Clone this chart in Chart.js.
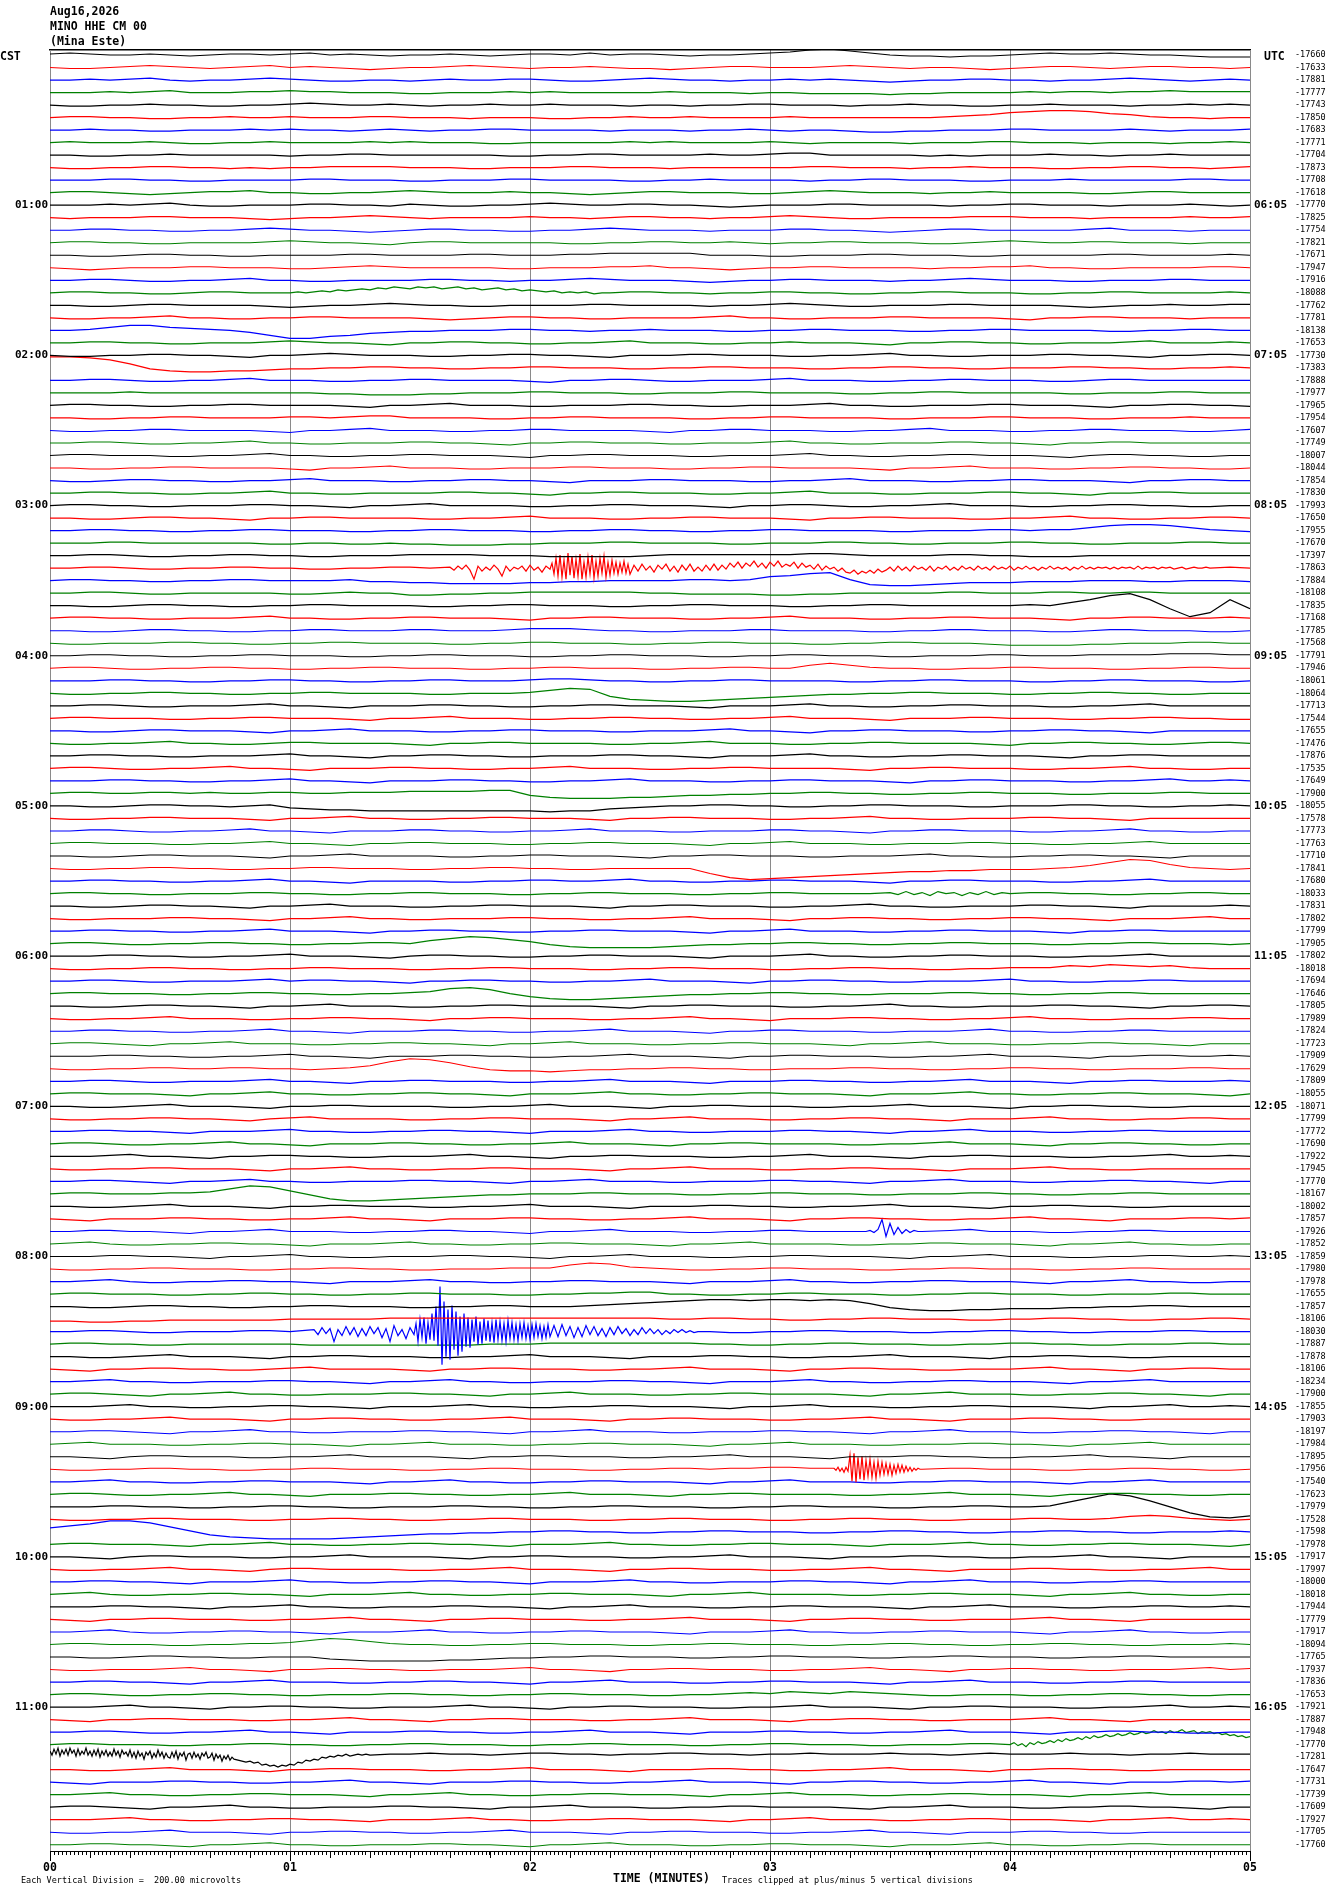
<!DOCTYPE html>
<html>
<head>
<meta charset="utf-8">
<script src="https://cdn.jsdelivr.net/npm/chart.js@4.4.1/dist/chart.umd.min.js"></script>
<style>
body { margin: 0; background: #fff; }
#wrap { position: relative; width: 1330px; height: 1894px; }
canvas { position: absolute; left: 0; top: 0; }
.t { position: absolute; font-family: "DejaVu Sans Mono", monospace; color: #000; white-space: pre; line-height: 15px; }
.b { font-weight: bold; font-size: 11.5px; }
.s { font-size: 8.5px; }
</style>
</head>
<body>
<div id="wrap">
  <canvas id="heli" width="1330" height="1894"></canvas>
  <div class="t b" style="left:50px;top:4px">Aug16,2026<br>MINO HHE CM 00<br>(Mina Este)</div>
  <div class="t b" style="left:0px;top:49px">CST</div>
  <div class="t b" style="left:1264px;top:49px">UTC</div>
  <div class="t s" style="left:21px;top:1873px">Each Vertical Division =  200.00 microvolts</div>
  <div class="t b" style="left:613px;top:1871px">TIME (MINUTES)</div>
  <div class="t s" style="left:722px;top:1873px">Traces clipped at plus/minus 5 vertical divisions</div>
</div>
<script>
// helicorder: 144 five-minute traces, 00:00-11:55 CST
const traceColors = ['#000000', '#ff0000', '#0000ff', '#008000'];
const localHours = ['01:00', '02:00', '03:00', '04:00', '05:00', '06:00', '07:00', '08:00', '09:00', '10:00', '11:00'];
const utcHours = ['06:05', '07:05', '08:05', '09:05', '10:05', '11:05', '12:05', '13:05', '14:05', '15:05', '16:05'];
const minuteLabels = ['00', '01', '02', '03', '04', '05'];

// mean count of each trace (right column)
const traceMeans = [
  -17660, -17633, -17881, -17777, -17743, -17850, -17683, -17771, -17704, -17873, -17708, -17618,
  -17770, -17825, -17754, -17821, -17671, -17947, -17916, -18088, -17762, -17781, -18138, -17653,
  -17730, -17383, -17888, -17977, -17965, -17954, -17607, -17749, -18007, -18044, -17854, -17830,
  -17993, -17650, -17955, -17670, -17397, -17863, -17884, -18108, -17835, -17168, -17785, -17568,
  -17791, -17946, -18061, -18064, -17713, -17544, -17655, -17476, -17876, -17535, -17649, -17900,
  -18055, -17578, -17773, -17763, -17710, -17841, -17680, -18033, -17831, -17802, -17799, -17905,
  -17802, -18018, -17694, -17646, -17805, -17989, -17824, -17723, -17909, -17629, -17809, -18055,
  -18071, -17799, -17772, -17690, -17922, -17945, -17770, -18167, -18002, -17857, -17926, -17852,
  -17859, -17980, -17978, -17655, -17857, -18106, -18030, -17887, -17878, -18106, -18234, -17900,
  -17855, -17903, -18197, -17984, -17895, -17956, -17540, -17623, -17979, -17528, -17598, -17978,
  -17917, -17997, -18000, -18018, -17944, -17779, -17917, -18094, -17765, -17937, -17836, -17653,
  -17921, -17887, -17948, -17770, -17281, -17647, -17731, -17739, -17609, -17927, -17705, -17760
];

// shape of each trace, one letter per 5 s; 'M' = 0, one letter step = 16 microvolts, later letters = up
const traceShapes = [
  'NONMMNMLMNNMNOMNMLMMNMLMNNMOMNNMLMMNOPRSQOMLLKLLMNONNONMMLKKK',
  'MLLMNONMLMNOMNMLKLMMNONMLMMNMLLKLMNNMMMNONMLMMLKLMNNMLMNNMMLM',
  'MMNMNOMLMMNONMLLMMLMNMMNNMLLMNONMMLMMNMNMLKLMMNNMMLMMNONMLMNM',
  'MMMNMNOMMMNNONNMMMLLMMMNMNMMMMMNMMMLMMLLLLKLLMMMMNMNNMNNONNNN',
  'MLLMMNMMLLMMNONMMNMLMMNMMNMMMLMMLMMNNMMMLMMNMMLLMMNMMMLMMNMNM',
  'MNNMMLLMMNMMNMMMNNMMMLMMMLLMMNMMNMMMMNMMMMMMMNOPRSTTSQPNMMLMM',
  'MMNMMLLMMMNMNMMLMNMLMMNNMMMMLMMMLMMNMLMMLKKLLMMMNNMMMMNMLMMMN',
  'MNMMMNMLLMMNMMMMNMNMMMLLMMMMMNMNMMMMNMLMMMMLMMMNNMMMLMMMLMMNM',
  'MMLLMMNMMMMMLMMNNMMMMMMLLMMNNMMMMNMMNOOMMMMMLMLMMMNMMLMMNMMMM',
  'MLLMMNNMMLMLMMNNNNMMMLLMMMNNMMMLMMMMMMNNMMMLMMNMMMLLMMNNMMLMN',
  'MMMNNMMLLMMMMNNMMMLLMMMNNMMMMLLMMNMMMMLMMNNMMMLLMMMNMMMMMNNMM',
  'MNNMLKLMNNOMMLLMMNONMMMNMMLKLMNNMMMLLMNONMMMLMMNMMMMLLMNNMMMM',
  'MMMNMNOMLLMMMNNMMLNMLLMMNONMMNNMMLKLMMMNNMMMMLMMNNMMMLMMMNMLM',
  'MLMMMNNMMMLKLMMNONMLMMMMNMMLMNNMMLMMNONMLLMMMMNNNMMMLMMMMNMMN',
  'MMNNMMLLMMNONMMLKLMNNMMLLMMNONMMMLMMMNNMMLKLMNNMMMMMNOMMMLMMM',
  'MNNMMLLMMMMNONMMLKMNNMMMMMLLMMNNMMNMLMMNNMMMLLMNONMMNNMMMLMMM',
  'MMLLMNNMMLLMMMMNNMMMMNNMMMNNOOOOOMMMLLMMMNNMMMLLMMMMMNNMMMMNM',
  'MLKLMMMNNMMMLLMNONMMMMMLLMMMNNOMMLKLMMNNMMMMLMMNNOMMLLMMMMNNM',
  'MMNNMLLMMNOMMLLMMMMNNMMLMMNONMMMLKLMMNNMMMLMMNONMMMLLMMMNNMMM',
  'MNNMMLLMNNMMNMMMMMMMMMMMMMMMMNNMMLMMNNMMLLMMNNMMMLLMMNNMMMMNM',
  'MMLLMNNMMMMLKLMMNONMMLLMMMMNNMMMMLMMNONMLLMMMNNMMMMLKLMMNMMNN',
  'MLLMMNOMMLLMMNNMMMMLKLMNNMMLLMMMMNOMMLLMMMNNMMMMLKMMNNMMMLMMM',
  'MMNPRRPONMKHEEGHJKLLMMMNNMMLMMNMMMLLMMNNMMMLLMMNNMMMMLLMMNNMM',
  'MMNNMMLLMMMNONMMLKMMNNMMLLMMNOMMMLLMMNMMMLKMMNNMMLLMMMNOMMMNM',
  'MLLMMNNMMLKMMNONMMMLLMMNNMMLKMMMNNMMMLLMMNOMMLLMMMNNMMLKMMNNM',
  'XXWUQLJIIJJKLLMMNNMMLLMMNNMMMLLMMNNMMMLLMMNNMMLLMMMNNMMLLMMNM',
  'MMNNMLLMMNOMMMLLMMNNMMMMLKMMNNMLLMMMNOMMMLLMMNNMMMLLMNNMMMMMM',
  'MMMMNMMMMMMMMMLLKKKLLMMMNNMMMLLMMMNNMMMMLLMMNNMMMMMLLMMMNNMMM',
  'MNNMMLLMMNNMMMMLKMMNOMMMLLMMMNNMMLLMMMNOMMLLMMMNNMMMLKMMNNMML',
  'MMLLMMNNMMMMNNMNOOMMMMLLMMNNMMMMLLMMNNMMMMLLMMMNNMMMLLMMMNMMM',
  'MLLMMNNMMMMLKMMNOMMMLLMMNNMMMMLKMMNNMMMLLMMNOMMMLLMMNNMMMLLMN',
  'MMNNMLLMMNOMMLLMMMNNMMLKMMNNMMMLLMMMNOMMLLMMMNNMMLKMMNNMMMMMM',
  'MNNMMMLLMMNOMMLLMMNNMMMLKMMNNMMMLLMMMNOMMLLMMNNMMMLKMNNMMLLMM',
  'MMLLMMNNMMMMLKMMNOMMMLLMMMNNMMMLLMMNNMMMMLKMMNOMMMLLMMNNMMLLM',
  'MLLMNNMMLLMMNOMMMLLMMNNMMLKMMMNNMMMLLMMNOMMMLLMMNNMMMLKMMNNMM',
  'MMNNMMLLMMNOMMLLMMMMNNMMLKMMNNMMMLLMMNOMMMLLMMMNNMMLKMMNNMMMM',
  'MNNMMLLMMMNNMMLKMMNOMMMMLLMMNNMMMLKMMNNMLLMMNOMMMLLMMNNMMLLMM',
  'MMLLMNNMMLKMMNNMMMMLLMMNOMMMLLMMNNMMMLKMMNNMMMLLMMNOMMLLMMNNM',
  'MMNNMMLLMMNNMMMLLMMNNMMMLLMMNNMMLLMMNNMMMMLLMMMNNMNNPRSSRPNML',
  'MMMNNMMMMMMLLMMLLMLLKKKLLMMMNNMMMMLLMMMNNMMLLMMMNNMMLLMMMNNMM',
  'MMNNMLLMMNNMMLLMMMNNNNMMMLLLLLMNNNNNNNOONMMMMNNMMLLLMMMMMMMMM',
  'MMNNMLLMMNNMMLLMMNNMMMMMMMMMMMMMMMMMMMMMMMMMMMMMMMMMMMMMMMNNM',
  'MNNMMLLMMNNMMMMNLLKKJJJJKKLLMMMMNNMNQRTUNIHHIJKKKLLLMMMLLMMML',
  'MMNNMLLMMMMMLLMNMMKKLLMMNNNNNNMMLLLLKKLLMMMMMNNMMMNNMMNNMMMMM',
  'MMLLMNNMMLLMMNNMMMMLLMMNNMMMLLMMNNMMMLLMMNNMMMMMMMMMMMMMMMMMM',
  'MNNMMLLMMMNOMMLLMMNNMMMLKMMNNMMMLLMMNOMMMLLMMNNMMMLKMMNNMMMNM',
  'MMLLMNNMMLLMMNNMMMNNMMMNOOONMMLLMMMNNMMMMLLMMNNMMMLLMNNMMMLLM',
  'MLLMMMNNMMLLMMNNMMMMLLMMNNMMMLLMMNNMMMLLMMNNMMMLKKKKLLMMMNNMM',
  'MMNNMMLLMMNNMMMLLMMNNMMMLLMMNNMMMLLMMNNMMMLLMMMNNMMMNNNNOOONN',
  'MNNMLLMMNNMMLLMMNNMMMLLMMNNMMMLLMMNNMMPRPNMMLLMMNNMMMLLMMNNMM',
  'MMMNNMMLLMMNNMMLLMMNNMMMNOONMMLLMMNNMMMMLLMMNNMMMLLMMNNMMMLLM',
  'MLLMMNNMMLLMMNNMMMMLLMMMNPRQJGFEEFGHIJKLLMMNNMMMLLMMNNMMLLMMM',
  'MMNNMLLMMMNOMMLKMMMNNMMLLMMNNMMMLKMMMNOMMLLMMNNMMMLLMMNOMMMMM',
  'MNNMMMLLMMNNMMMLKMMNOMMMLLMMNNMMLLMMNOMMMLKMMMNNMMMLLMMNNMMLL',
  'MMLLMNNMMMLKMMNOMMMLLMMNNMMMLLMMMNOMMLKMMNNMMMLLMMNNMMLKMMMMM',
  'MLLMMNOMMLLMNNMMMMLKMMNNMMMMLLMMNOMMMLLMMNNMMMMLKMMNNMMLLMNNM',
  'MMNNMMLLMMMNOMMLKMMNNMMLLMMMNNMMLKMMMNOMMLLMMNNMMMLKMMNNMMMMM',
  'MNNMLLMMNOMMLKMMMNNMMLLMMNOMMMLLMMNNMMMMLKMMNNMMMLLMMNOMMLLMM',
  'MMMNNMMLLMMNOMMLKMMMNNMMLLMMNOMMMLLMMNNMMMLKMMNNMMMLLMMNOMMNM',
  'MNNMMNNMNMMNNMMNNNOOOOPPKIHHHIIJKKLLMMNNMMLLMMNNMMMLLMMMNNMMM',
  'MMLLMNNMMLMNKJIIHHHHHHHHHGHHJKLMMNNMMLLMMNNMMMLLMMMNNMMLLMMNM',
  'MLLMMNNMMMLKMMNOMMLLMMNNMMMLKMMNNMMMLLMMNOMMLLMMMNNMMLKMMMMMM',
  'MMNNMLLMMNOMMLKMMMNNMMLLMMNOMMMLLMMMNNMMLKMMNNMMMLLMMNOMMLLMM',
  'MNNMMMLLMMNOMMLKMMNNMMMLLMMNNMMMLKMMNOMMMLLMMMNNMMLLMMNOMMMMM',
  'MMLLMNNMMMLKMMNOMMMMLLMMNNMMMLKMMNNMMMLLMMMNOMMLLMMNNMMLKMMMM',
  'MLLMMNNMMLLMMNNMMMLLMMNNMMLLMMMMMHDBCDEFGHIJJKKLLLMNPSVUQNMLM',
  'MMNNMMLLMMNOMMLKMMMMLLMMNNMMNOMMLLMMNNMMMLKMMNNMMMLLMMNOMMMMM',
  'MNNMMLLMMMNNMMLLMMNNMMMLLMMNNMMMLLMMNNMMMMMMMMMMMNNMMLLMMNNMM',
  'MMLLMNNMMLKMMNOMMMLLMMNNMMMLKMMNNMMMLLMMNOMMLLMMMNNMMLKMMMMNM',
  'MLLMMMNNMMLKMMNOMMLLMMMNNMMLLMMNOMMMLKMMNNMMLLMMNNMMLKMMMNOMM',
  'MMNNMMLLMMNOMMMLKMMNNMMLLMMNNMMMLKMMNOMMMLLMMNNMMMLKMMNNMMMMM',
  'MNNMLLMMNNMMLLMMNNMPRTSQOLJIIIIJKLLMMNNMMLLMMNNMMMLLMMNNMMMLM',
  'MMMNNMMLLMMNOMMMLKMNNMMLLMMNNMMMLKMMMNOMMLLMMNNMMMLLMMNOMMMMM',
  'MLLMMNNMMLLMMNNMMMLLMMNNMMMLLMMNNMMMLLMMNNMMLLMMNNNPOQPOPNMMM',
  'MMNNMLLMMMNOMNNMMLKMMNNMMLLMMNOMMMLKMMNNMMLLMMMNOMMLLMMNNMMMM',
  'MNNMMMLLMMNNMMLLMMNORSQMJHGGHIJKLLMMNNMMLLMMMNNMMLLMMNNMMMMMM',
  'MMLLMNNMMLKMMNOMMMLLMMNNMMMMLKMMNNMMMLLMMNOMMLLMMMNNMMLKMMNNM',
  'MLLMMNOMMMLLMMNNMMLKMMNNMMMLLMMNOMMLKMMMNNMMLLMMNOMMLLMMMNNMM',
  'MMNNMMLLMMNOMMLKMMMNNMMLLMMNOMMMLKMMNNMMMLLMMMNOMMLLMMNNMMMMM',
  'MNNMLKMMNOMMMLLMMNNMMLKMMNOMMMLLMMNNMMMLKMMNOMMMLLMMNNMMLKMMM',
  'MMMNNMMLLMMNOMMLKMMMNNMMLLMMNOMMMLKMMNNMMMLLMMNOMMMLKMMNNMMNM',
  'MLLMMNNMMNNMMLMNPTWVSOLKKJKLLMMNNMMLLMMMNNMMLLMMNNMMLLMMMNNMM',
  'MMNNMLLMMMNOMMLKMMNNMMMLLMMNOMMMLKMMMNNMMLLMMNOMMMLKMMNNMMMNM',
  'MNNMMMLKMMNOMMLLMMNNMMLKMMMNOMMLLMMNNMMMLKMMMNOMMLLMMNNMMMLKM',
  'MMLLMNOMMMLKMMNNMMMMLLMMNOMMMLKMMNNMMMLLMMNOMMMLKMMNNMMLLMMMM',
  'MLLMMNNMMLKMNOMMMMLLMMNNMMMLKMMNOMMMLLMMNNMMLKMMMNOMMLLMMNNMM',
  'MMNNMMLKMMMNOMMLLMMNNMMLKMMMNOMMLLMMMNNMMLKMMNOMMMLLMMNNMMMMM',
  'MNNMLLMMNOMMLKMMMNNMMLLMMNOMMMLKMMNNMMMMLLMMNOMMMLKMMNNMMLLMM',
  'MMMNOMMLKMMNNMMLLMMMNOMMLKMMNNMMMLLMMNOMMMLKMMNNMMMLLMMNOMMNM',
  'MLLMMNNMMMLKMMNOMMLLMMNNMMMLKMMNOMMMLLMMNNMMLKMMMNOMMLLMMMMMM',
  'MMNNMLKMMNOMMLLMMMNNMMLKMMNOMMMLLMMMNNMMLKMMNOMMMLLMMNNMMLKMM',
  'MNNMMMNNORUTPLHFFGHIJKLLMMMNNMMMLLMMNNMMMLLMMMNNMMLLMMNNMMMMM',
  'MMLLMNOMMMLKMMNNMMMLLMMNOMMMLKMMMNNMMLLMMNOMMMLKMMNNMMLLMMMMM',
  'MLKMMMNNMMLLMMNOMMLKMMMNNMMLLMMNOMMMLKMMNNMMLLMMNOMMLKMMMNNMN',
  'MMNNMMLKMMNOMMMLLMMNNMMLKMMNOMMMLLMMNNMMMLKMMNOMMMLLMMNNMMMMM',
  'MNOMLLMMNNMMLKMMMNOMMLLMMNNMMMLKMMNOMMMMLLMMNNMMMLKMMNOMMLLMM',
  'MMMNNMMLKMMNOMMLLMMMNNMMLKMMNOMMMLLMMNNMMMLKMMNOMMMLLMMNNMMNM',
  'MLLMMNNMMMLLMMNNMMLLMMMNNNQSRONMLLMMNNMMMLLMMNNMMMLLMMNNMMMMM',
  'MMNOMLLMMNNMMLKMMMNOMMLLMMNNMMMLKMMMNOMMLLMMNNMMMLKMMNOMMLLMM',
  'MNNMMMLLMMNNMMLLMMNNMMMLLMMNNOOMMLLMMNNMMMLLMMNNMMMLLMMMNNMMM',
  'MMLLMNNMMLLMMNNMMMLLMMNNMMMNOPQRSTTSTTSTSPLJIIJJKKKLLMMNNMMMM',
  'KKJJKKLLLLLLMMMMMNNNNNNNNNNNNNNMMNNMMLLMMNNMMMLLMMNNMMLLMMNNM',
  'MMNNMLLMMMNNMMMMMMMMMMMMMMMMMMMMMMLLMMNNMMMLLMMNNMMLLMMMNNMMM',
  'MNNMMLLMMMMMMLLLLLLLLLMMMNNNNNNNNMMLLMMNNMMMLLMMNNMMLLMMMNNMM',
  'MMLLMNOMMMLKMMNNMMMLLMMNOMMMLKMMMNNMMLLMMNOMMMLKMMNNMMLLMMMMM',
  'MLKMMNNMMLLMNOMMMMLKMMNNMMMLLMMNOMMMLKMMNNMMLLMMMNOMMLKMMNNMM',
  'MMNOMMLLMMMNNMMLKMMNOMMLLMMMNNMMLKMMMNOMMLLMMNNMMMLKMMNOMMMMM',
  'MNNMLKMMNOMMLLMMMNNMMLKMMNOMMMLLMMNNMMMMLKMMNOMMMLLMMNNMMLKMM',
  'MMMNOMMLLMMNNMMLKMMMNOMMLLMMNNMMMLKMMNOMMMLLMMNNMMMLKMMNOMMNM',
  'MLLMMNOMMMLKMMNNMMLLMMNOMMMLKMMNNMMMLLMMNOMMLKMMMNNMMLLMMMMMM',
  'MMNNMLKMMNOMMLLMMMNNMMLKMMNOMMMLLMMMNNMMLKMMNOMMMLLMMNNMMLKMM',
  'MNOMMMLLMMNNMMLKMMNOMMMLLMMNNMMMLKMMNOMMMLLMMMNNMMLKMMNOMMMMM',
  'MMLKMNNMMMLLMMNOMMMMLKMMNNMMMLLMMNOMMMLKMMMNNMMLLMMNOMMLKMMMM',
  'MLLMMNNMMLLMMNNMMMLLMMNNMMMLLMMNNMNNOONNMMMMMNNMMMLLMMNNMMLLM',
  'MMNOMMLLMMNNMMMLKMMNOMMLLMMNNMMMLKMMNOMMMLLMMNNMMMLKMMNOMMMMM',
  'MNNMLLMMNOMMLKMMMNNMMLLMMNOMMMLKMMNNMMMMLLMMNOMMMLKMMNNMMLLMM',
  'MMMNNMMLLMMNNMMLLMMMNNMMLLMMNNMMMLLMMNNMMMLLMMNNMMNRVZXSMGCBD',
  'MLLMMNNMMMLLMMNNMMLLMMNNMMMLLMMNNMMMLLMMNNMMLLMMMNNMMNPQPNMLM',
  'QSUXXVRNJHGFFFFGHIJKKLLMMNNMMLLMMNNMMMLLMMNNMMLLMMNNMMLLMMMNM',
  'MNNMMMLKMMNOMMLLMMNNMMLKMMMNOMMLLMMNNMMMLKMMMNOMMLLMMNNMMMLKM',
  'MMLKMNNMMMLLMMNOMMMMLKMMNNMMMLLMMNOMMMLKMMMNNMMLLMMNOMMLKMMMM',
  'MLLMMNOMMLKMNNMMMMLLMMNOMMMLKMMNNMMMLLMMNOMMLKMMMNNMMLLMMNOMM',
  'MMNNMMLKMMMNOMMLLMMNNMMLKMMMNOMMLLMMMNNMMLKMMNOMMMLLMMNNMMMMM',
  'MNOMLLMMNNMMLKMMMNOMMLLMMNNMMMLKMMNOMMMMLLMMNNMMMLKMMNOMMLLMM',
  'MMMNNMMLKMMNOMMLLMMMNNMMLKMMNOMMMLLMMNNMMMLKMMNOMMMLLMMNNMMNM',
  'MLKMMNNMMMLLMMNOMMLKMMNNMMMLLMMNOMMMLKMMNNMMLLMMMNOMMLKMMMMMM',
  'MMNOMLLMMNNMMLKMMMNOMMLLMMNNMMMLKMMMNOMMLLMMNNMMMLKMMNOMMLLMM',
  'MNNMMMLLMMNNOQSRPNMMLLMMNNMMMLLMMNNMMMLLMMNNMMLLMMNNMMLLMMMNM',
  'MMLLMNNMMLLMMMKJIIIIJJKLLMMNNMMMLLMMNNMMMLLMMNNMMMLLMMNNMMMMM',
  'MLLMMMNOMMLKMMNNMMLLMMMNOMMLKMMNNMMMLLMMNOMMLKMMNNMMLLMMMNOMN',
  'MMNNMMLKMMNOMMMLLMMNNMMLKMMNOMMMLLMMNNMMMLKMMNOMMMLLMMNNMMMMM',
  'MNNMLLMMNNMMLLMMMNNMMLLMMNNMMMLLMMNONPONPONMLLMMMLLMMNNMMLLMM',
  'MMMNOMMLKMMNNMMLLMMMNOMMLKMMNNMMMLLMMNOMMMLKMMNNMMMLLMMNOMMNM',
  'MLKMMNNMMMLLMMNOMMLKMMNNMMMLLMMNOMMMLKMMNNMMLLMMMNOMMLKMMMMMM',
  'MMNNMLLMMNOMMLKMMMNNMMLLMMNOMMMLKMMMNNMMLLMMNOMMMLKMMNNMMLLMM',
  'MNNMMMLLMMNNMMLLMMNNMMMLLMMNNMMMLLMMNNMMMLLMMMNNMMMMMMMMMMMMM',
  'MMMMMMMMMMMMMMMMMPPQPPOPQQPPOPPQQPPOPPQPPPQPPOPQPPPQPPOPPQPPP',
  'MMLLMNOMMMLKMMNNMMMLLMMNOMMMLKMMMNNMMLLMMNOMMMLKMMNNMMLLMMMMM',
  'MLKMMMNNMMLLMMNOMMLKMMMNNMMLLMMNOMMMLKMMNNMMLLMMNOMMLKMMMNNMN',
  'MMNOMMLLMMNNMMMLKMMNOMMLLMMNNMMMLKMMNOMMMLLMMNNMMMLKMMNOMMMMM',
  'MNNMLKMMNOMMLLMMMNNMMLKMMNOMMMLLMMNNMMMMLKMMNOMMMLLMMNNMMLKMM',
  'MMMNOMMLLMMNNMMLKMMMNOMMLLMMNNMMMLKMMNOMMMLLMMNNMMMLKMMNOMMNM',
  'MLLMMNOMMMLKMMNNMMLLMMNOMMMLKMMNNMMMLLMMNOMMLKMMMNNMMLLMMMMMM',
  'MMNNMMLKMMNOMMLLMMMNNMMLKMMNOMMMLLMMNNMMMLKMMMNOMMLLMMNNMMMMM'
];

// detailed stretches (quakes, noise); start and step in seconds, same 16 microvolt units
const traceEvents = [
  { row: 19, start: 60, step: 2, values: [0,1,0,1,2,1,3,2,3,4,3,5,4,6,5,4,6,5,6,4,5,6,4,5,3,4,5,3,4,2,3,2,1,2,0,1,0,1,-1,0,0] },
  { row: 41, start: 100, step: 1, values: [1,-2,2,-1,3,-2,-11,2,-3,1,-2,3,-1,-8,2,-3,1,-1,2,-3,3,-2,1,-4,2,-1] },
  { row: 41, start: 125.5, step: 0.5, values: [5,-6,10,-8,13,-9,8,-11,15,-7,12,-10,9,-8,14,-11,6,-9,11,-6,13,-10,7,-8,10,-5,12,-9,6,-7,8,-5,6,-6,5,-4,7,-5,4,-6] },
  { row: 41, start: 146, step: 1, values: [3,-3,4,-2,2,-4,3,-1,4,-3, 2,-4,3,-2,4,-3,1,-3,3,-2, 4,-2,3,-1,5,1,6,0,5,2,
      7,1,5,0,6,2,7,1,4,2, 6,0,5,1,3,-1,4,-2,2,-1, 1,-3,0,-4,-5,-2,-6,-3,-5,-2, -5,-1,-4,-2,1,-3,2,-2,1,-3,
      2,-1,1,-2,2,-3,1,-1,2,-2, 1,-2,2,-1,1,-2,2,-1,1,-2, 2,-1,1,-1,2,-2,1,-1,2,-1, 1,-2,1,-1,2,-1,1,-1,1,-2,
      1,-1,2,-1,1,-1,1,0,1,-1, 1,-1,1,0,1,-1,2,-1,1,0, 1,-1,1,0,1,-1,0,1,-1,0, 1,0,0,1,0] },
  { row: 44, start: 240, step: 5, values: [0,1,0,3,6,10,12,6,-3,-11,-7,6,-3] },
  { row: 67, start: 210, step: 2, values: [1,-1,2,-1,1,-2,2,0,1,-2,1,-1,2,-1,1,0] },
  { row: 94, start: 204, step: 1, values: [0,1,-1,2,12,-5,8,-3,4,-2,2,-1,1,0,0] },
  { row: 102, start: 66, step: 1, values: [2,-3,4,-2,3,-10,2,-4,5,-3,4,-5,3,-4,5,-2,4,-6,3,-10,6,-4,2,-7,4,-3] },
  { row: 102, start: 91.5, step: 0.5, values: [8,-10,12,-6,14,-12,9,-8, 18,-9,25,-14, 45,-33,30,-25, 22,-28,26,-18,20,-24,15,-20,
      18,-15,14,-16,12,-10,15,-13,10,-12,13,-9,11,-10, 9,-11,12,-8,10,-9,8,-10,11,-7,9,-8,7,-9,8,-6,
      9,-7,6,-8,7,-6,8,-5,6,-7,5,-6,7,-5] },
  { row: 102, start: 126, step: 1, values: [6,-5,7,-4,5,-6,4,-5,6,-3,5,-4,3,-5,4,-3,5,-2,3,-4,2,-3,4,-2,3,-2,2,-3,1,-2,2,-1,2,-1,1,-1,0] },
  { row: 113, start: 196, step: 0.5, values: [1,-1,2,-2,1,-3,2,-2, 14,-12,16,-13,12,-10,13,-11, 9,-7,10,-8,7,-9,8,-6,7,-5,
      6,-5,5,-6,4,-4,5,-3,4,-3,3,-2, 2,-2,1,-1,1,0,0] },
  { row: 135, start: 240, step: 1, values: [0,2,-1,1,-2,2,0,3,1,2, 4,2,5,3,6,4,5,7,5,8, 6,9,7,8,10,8,9,11,9,10,
      12,10,11,13,11,12,14,12,13,11, 14,12,13,15,12,13,14,11,13,12, 13,11,12,10,11,9,10,8,9,7,8] },
  { row: 136, start: 0, step: 0.5, values: [6,2,8,3,9,1,7,3,8,2, 9,4,7,1,8,2,6,3,9,2, 6,1,7,2,8,0,6,2,7,1, 5,1,8,2,6,0,7,3,5,1,
      7,0,5,-1,6,1,4,-2,5,2, 6,-1,4,0,7,1,5,-1,4,0, -1,5,0,6,-2,4,1,5,-3,3, 4,-1,5,0,3,-2,4,1,5,-1,
      0,4,-3,3,-1,2,-4,1,-2,2, -3,0,-2] },
  { row: 136, start: 47, step: 1, values: [-3,-4,-5,-4,-6,-5,-8,-7,-9,-8, -10,-8,-9,-7,-8,-5,-6,-3,-4,-2, -3,0,-1,1,0,2,1,3,1,2, 3,2,3,2] }
];

const UNIT_UV = 16;      // one shape step
const DIVISION_UV = 200; // trace spacing = one vertical division
const SPAN_S = 300;

function letterValue(ch) { return ch.charCodeAt(0) - 77; }

const datasets = traceShapes.map((shape, row) => {
  const evs = traceEvents.filter(e => e.row === row);
  const spanOf = e => [e.start, e.start + e.step * (e.values.length - 1)];
  const covered = t => evs.some(e => { const s = spanOf(e); return t >= s[0] - 2 && t <= s[1] + 2; });
  const pts = [];
  for (let i = 0; i < shape.length; i++) {
    const t = i * SPAN_S / (shape.length - 1);
    if (!covered(t)) pts.push({ t: t, v: letterValue(shape[i]) });
  }
  evs.forEach(e => e.values.forEach((v, j) => pts.push({ t: e.start + j * e.step, v: v })));
  pts.sort((a, b) => a.t - b.t);
  return {
    data: pts.map(p => ({ x: p.t, y: row - Math.max(-5, Math.min(5, p.v * UNIT_UV / DIVISION_UV)) })),
    showLine: true,
    borderColor: traceColors[row % 4],
    borderWidth: 1.2,
    pointRadius: 0,
    tension: 0
  };
});

const mono = 'DejaVu Sans Mono';

// longer marks every 10 s and every minute on the time axis
const longTicks = {
  id: 'longTicks',
  afterDraw(chart) {
    const sx = chart.scales.x;
    const ctx = chart.ctx;
    const y0 = chart.chartArea.bottom;
    ctx.save();
    ctx.strokeStyle = '#000';
    ctx.lineWidth = 1;
    for (let s = 0; s <= SPAN_S; s += 10) {
      const px = Math.round(sx.getPixelForValue(s)) + 0.5;
      ctx.beginPath();
      ctx.moveTo(px, y0);
      ctx.lineTo(px, y0 + (s % 60 === 0 ? 10 : 7));
      ctx.stroke();
    }
    ctx.restore();
  }
};

const rowScale = {
  type: 'linear', reverse: true, min: -0.4, max: traceMeans.length - 0.5,
  grid: { display: false, drawTicks: false }
};

new Chart(document.getElementById('heli'), {
  type: 'scatter',
  data: { datasets: datasets },
  options: {
    responsive: false,
    devicePixelRatio: 1,
    animation: false,
    layout: { padding: 0 },
    plugins: { legend: { display: false }, tooltip: { enabled: false } },
    scales: {
      x: {
        type: 'linear', position: 'bottom', min: 0, max: SPAN_S,
        afterBuildTicks: s => { s.ticks = Array.from({ length: SPAN_S + 1 }, (_, i) => ({ value: i })); },
        afterFit: s => { s.height = 43; },
        ticks: {
          autoSkip: false, maxRotation: 0, padding: 6, color: '#000',
          font: { family: mono, size: 11.5, weight: 'bold' },
          callback: v => (v % 60 === 0 ? minuteLabels[v / 60] : '')
        },
        grid: {
          tickLength: 4, tickColor: '#000', lineWidth: 1,
          color: c => (c.tick && c.tick.value % 60 === 0 ? '#8a8a8a' : 'rgba(0,0,0,0)')
        },
        border: { color: '#000', width: 1 }
      },
      xTop: {
        type: 'linear', position: 'top', min: 0, max: SPAN_S,
        ticks: { display: false },
        grid: { display: false, drawTicks: false },
        border: { color: '#000', width: 1.5 },
        afterFit: s => { s.height = 50; }
      },
      y: Object.assign({}, rowScale, {
        position: 'left',
        afterBuildTicks: s => { s.ticks = localHours.map((_, i) => ({ value: (i + 1) * 12 })); },
        afterFit: s => { s.width = 50; },
        ticks: { autoSkip: false, padding: 2, color: '#000', font: { family: mono, size: 11, weight: 'bold' },
          callback: v => localHours[v / 12 - 1] },
        border: { color: '#8a8a8a', width: 1 }
      }),
      yUtc: Object.assign({}, rowScale, {
        position: 'right', weight: 0,
        afterBuildTicks: s => { s.ticks = utcHours.map((_, i) => ({ value: (i + 1) * 12 })); },
        afterFit: s => { s.width = 44; },
        ticks: { autoSkip: false, padding: 4, color: '#000', font: { family: mono, size: 11, weight: 'bold' },
          callback: v => utcHours[v / 12 - 1] },
        border: { color: '#8a8a8a', width: 1 }
      }),
      yMean: Object.assign({}, rowScale, {
        position: 'right', weight: 1,
        afterBuildTicks: s => { s.ticks = traceMeans.map((_, i) => ({ value: i })); },
        afterFit: s => { s.width = 36; },
        ticks: { autoSkip: false, padding: 1, color: '#000', font: { family: mono, size: 8.5 },
          callback: v => String(traceMeans[v]) },
        border: { display: false }
      })
    }
  },
  plugins: [longTicks]
});
</script>
</body>
</html>
